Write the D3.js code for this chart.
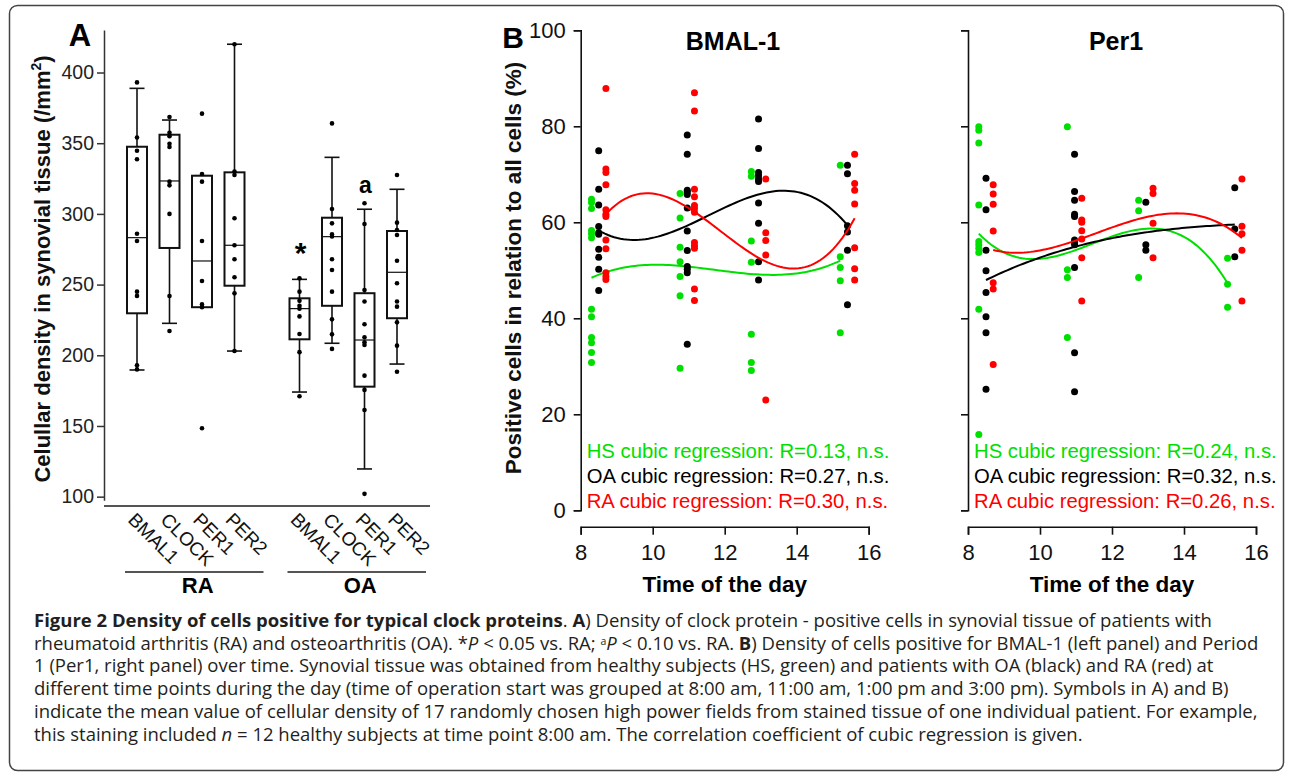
<!DOCTYPE html>
<html>
<head>
<meta charset="utf-8">
<script src="https://cdn.jsdelivr.net/npm/d3@7"></script>
<style>
  body { margin: 0; background: #fff; }
  svg { display: block; font-family: "Liberation Sans", Arial, sans-serif; }
</style>
</head>
<body>
<svg id="fig" width="1290" height="773"></svg>
<script>
// ---------- Panel A data ----------
const genes = ["BMAL1", "CLOCK", "PER1", "PER2"];
const diseases = ["RA", "OA"];
// [lower whisker, q1, median, q3, upper whisker]
const raStats = [
    [189.6, 229.7, 283.2, 347.5, 388.8],
    [222.6, 275.9, 323.3, 356.0, 366.4],
    [234.0, 234.0, 266.7, 327.0, 327.0],
    [203.0, 249.2, 277.8, 329.4, 420.0]
];
const oaStats = [
    [174.0, 211.3, 233.0, 240.3, 253.7],
    [208.5, 235.0, 283.9, 297.3, 340.0],
    [119.6, 177.8, 210.8, 243.9, 303.3],
    [193.8, 226.2, 258.7, 287.9, 317.4]
];
const raPoints = [
    [393, 354, 344.7, 338.6, 286, 280.8, 245, 242, 193, 190],
    [368.5, 357.4, 355, 349.6, 347.3, 322.8, 320.2, 300, 241.9, 217.2],
    [370.9, 328.2, 322.8, 280.8, 252.5, 236, 234, 148.4],
    [420, 330, 327.5, 296.9, 277.8, 267.9, 255.2, 243.8, 203]
];
const oaPoints = [
    [254.4, 245, 238.5, 235, 233, 227.5, 215, 202.2, 171],
    [364, 303.5, 293.3, 285.5, 284, 267.9, 260.3, 245, 225.4, 214.8, 204.5],
    [307.5, 292.9, 246.2, 238, 221.9, 212.7, 209.2, 207.3, 185.6, 175.5, 161.3, 102],
    [327.5, 293.8, 288.6, 285.1, 266.9, 250.9, 238, 234.4, 223.3, 206.8, 188.4]
];
const oaMarks = ["*", "", "a", ""];
const yTicksA = [100, 150, 200, 250, 300, 350, 400];

// ---------- Panel B data ----------
const times = [8.5, 10.96, 12.94, 15.41];
const groupsB = ["HS", "OA", "RA"];
const bmalHS = [
    [64.8, 64.1, 62.9, 58.3, 57.6, 56.8, 41.9, 40.3, 36.0, 34.9, 32.9, 30.8],
    [66.0, 60.9, 54.8, 51.8, 48.7, 44.7, 29.6],
    [70.6, 69.6, 56.1, 51.7, 36.7, 30.8, 29.1],
    [71.9, 52.8, 50.6, 47.8, 37.0]
];
const bmalOA = [
    [74.9, 66.9, 63.6, 59.1, 57.8, 57.5, 54.4, 52.7, 50.2, 45.8],
    [78.2, 74.2, 66.7, 66.3, 65.8, 63.0, 58.2, 54.1, 50.8, 50.2, 49.5, 34.6],
    [81.5, 75.4, 70.4, 69.7, 69.0, 68.5, 64.0, 59.8, 51.8, 48.0],
    [71.9, 70.1, 59.3, 58.0, 54.2, 42.8]
];
const bmalRA = [
    [87.9, 71.1, 70.4, 67.8, 62.6, 61.7, 61.2, 56.3, 54.5, 49.5, 48.7, 48.1],
    [87.0, 83.2, 66.9, 65.3, 63.5, 62.9, 62.1, 55.8, 55.1, 54.6, 46.1, 43.7],
    [69.0, 57.8, 56.2, 53.2, 23.0],
    [74.2, 68.1, 66.7, 63.8, 54.7, 50.3, 48.0]
];
const perHS = [
    [79.9, 79.2, 76.5, 63.6, 56.0, 55.3, 54.6, 53.7, 41.9, 15.8],
    [79.9, 50.1, 48.5, 36.0],
    [64.6, 62.4, 48.5],
    [52.5, 47.1, 42.3]
];
const perOA = [
    [69.2, 62.6, 54.2, 49.9, 45.4, 40.3, 37.0, 25.2],
    [74.2, 66.4, 64.6, 61.7, 61.2, 56.3, 55.8, 55.3, 50.6, 32.8, 24.7],
    [64.2, 55.3, 54.2],
    [67.2, 58.6, 52.8]
];
const perRA = [
    [67.8, 65.9, 63.75, 58.2, 47.4, 46.1, 30.4],
    [65.0, 60.5, 60.0, 58.25, 56.5, 52.6, 43.6],
    [67.1, 66.0, 59.8, 52.6],
    [69.0, 59.2, 57.6, 54.2, 43.6]
];
const bmalR = ["0.13", "0.27", "0.30"];
const perR = ["0.24", "0.32", "0.26"];
const xTicksB = [8, 10, 12, 14, 16];
const yTicksB = [0, 20, 40, 60, 80, 100];

const colors = { HS: "#00e000", OA: "#000000", RA: "#ff0000" };
const jitter = { HS: -0.2, OA: 0, RA: 0.2 };

const svg = d3.select("#fig");

// frame
svg.append("rect")
    .attr("x", 9.5).attr("y", 5.5)
    .attr("width", 1274).attr("height", 765)
    .attr("rx", 8)
    .attr("fill", "none")
    .attr("stroke", "#444")
    .attr("stroke-width", 1.5);

// ================= Panel A =================
const slots = ["RA-BMAL1", "RA-CLOCK", "RA-PER1", "RA-PER2", "gap",
               "OA-BMAL1", "OA-CLOCK", "OA-PER1", "OA-PER2"];
const xA = d3.scalePoint().domain(slots).range([137, 397]);
const yA = d3.scaleLinear().domain([97.5, 430]).range([500.2, 30.1]);

const gA = svg.append("g");

gA.append("g")
    .attr("transform", "translate(104,0)")
    .call(d3.axisLeft(yA).tickValues(yTicksA).tickSize(7).tickSizeOuter(0).tickPadding(3))
    .call(g => g.selectAll("path, line").attr("stroke", "#333").attr("stroke-width", 1.5))
    .call(g => g.selectAll("text").attr("font-size", 19.5).attr("fill", "#222")
        .attr("font-family", "Liberation Sans, Arial, sans-serif"));

// baseline of panel A
gA.append("line")
    .attr("x1", 104).attr("x2", 430)
    .attr("y1", 506).attr("y2", 506)
    .attr("stroke", "#555").attr("stroke-width", 2);

gA.append("text")
    .attr("transform", "translate(50,269) rotate(-90)")
    .attr("text-anchor", "middle")
    .attr("font-size", 22).attr("font-weight", "bold").attr("fill", "#111")
    .text("Celullar density in synovial tissue (/mm")
    .append("tspan").attr("font-size", 14).attr("dy", -9).text("2")
    .select(function () { return this.parentNode; })
    .append("tspan").attr("dy", 9).text(")");

gA.append("text")
    .attr("x", 80).attr("y", 46)
    .attr("text-anchor", "middle")
    .attr("font-size", 31).attr("font-weight", "bold")
    .text("A");

const boxes = [];
diseases.forEach((dz, di) => {
    const stats = di === 0 ? raStats : oaStats;
    const pts = di === 0 ? raPoints : oaPoints;
    genes.forEach((gn, gi) => {
        boxes.push({ key: dz + "-" + gn, gene: gn, s: stats[gi], pts: pts[gi],
                     mark: di === 1 ? oaMarks[gi] : "" });
    });
});

const boxW = 20, capW = 15;
const bx = gA.selectAll("g.box").data(boxes).enter().append("g").attr("class", "box");

bx.append("line")
    .attr("x1", d => xA(d.key)).attr("x2", d => xA(d.key))
    .attr("y1", d => yA(d.s[0])).attr("y2", d => yA(d.s[4]))
    .attr("stroke", "#111").attr("stroke-width", 1.6);
bx.selectAll("line.cap").data(d => [d.s[0], d.s[4]].map(v => ({ x: xA(d.key), v })))
    .enter().append("line").attr("class", "cap")
    .attr("x1", d => d.x - capW / 2).attr("x2", d => d.x + capW / 2)
    .attr("y1", d => yA(d.v)).attr("y2", d => yA(d.v))
    .attr("stroke", "#111").attr("stroke-width", 1.6);
bx.append("rect")
    .attr("x", d => xA(d.key) - boxW / 2)
    .attr("y", d => yA(d.s[3]))
    .attr("width", boxW)
    .attr("height", d => yA(d.s[1]) - yA(d.s[3]))
    .attr("fill", "#fff").attr("stroke", "#111").attr("stroke-width", 2);
bx.append("line")
    .attr("x1", d => xA(d.key) - boxW / 2).attr("x2", d => xA(d.key) + boxW / 2)
    .attr("y1", d => yA(d.s[2])).attr("y2", d => yA(d.s[2]))
    .attr("stroke", "#111").attr("stroke-width", 1.2);
bx.selectAll("circle").data(d => d.pts.map(v => ({ x: xA(d.key), v })))
    .enter().append("circle")
    .attr("cx", d => d.x).attr("cy", d => yA(d.v))
    .attr("r", 2.3).attr("fill", "#000");

// significance marks
bx.filter(d => d.mark === "*").append("text")
    .attr("x", d => xA(d.key) + 1).attr("y", d => yA(d.s[4]) - 16)
    .attr("text-anchor", "middle").attr("font-size", 30).attr("font-weight", "bold")
    .text(d => d.mark);
bx.filter(d => d.mark === "a").append("text")
    .attr("x", d => xA(d.key) + 1).attr("y", d => yA(d.s[4]) - 16)
    .attr("text-anchor", "middle").attr("font-size", 23).attr("font-weight", "bold")
    .text(d => d.mark);

// rotated gene labels
gA.selectAll("text.gene").data(boxes).enter().append("text")
    .attr("class", "gene")
    .attr("transform", d => `translate(${xA(d.key) - 10},521) rotate(45)`)
    .attr("font-size", 19).attr("fill", "#111")
    .text(d => d.gene);

// group underlines and labels
diseases.forEach((dz, di) => {
    const first = xA(dz + "-" + genes[0]), last = xA(dz + "-" + genes[3]);
    gA.append("line")
        .attr("x1", first - 12).attr("x2", last + 29)
        .attr("y1", 572).attr("y2", 572)
        .attr("stroke", "#555").attr("stroke-width", 1.8);
    gA.append("text")
        .attr("x", (first + last) / 2 + 12).attr("y", 593)
        .attr("text-anchor", "middle")
        .attr("font-size", 22).attr("font-weight", "bold")
        .text(dz);
});

// ================= Panel B =================
const yB = d3.scaleLinear().domain([0, 100]).range([510.3, 30.3]);

function cubicFit(xs, ys) {
    const A = [[0, 0, 0, 0], [0, 0, 0, 0], [0, 0, 0, 0], [0, 0, 0, 0]];
    const b = [0, 0, 0, 0];
    xs.forEach((x, i) => {
        const u = x - 12, p = [1, u, u * u, u * u * u];
        for (let j = 0; j < 4; j++) {
            b[j] += p[j] * ys[i];
            for (let k = 0; k < 4; k++) A[j][k] += p[j] * p[k];
        }
    });
    // gaussian elimination
    for (let c = 0; c < 4; c++) {
        let piv = c;
        for (let r = c + 1; r < 4; r++) if (Math.abs(A[r][c]) > Math.abs(A[piv][c])) piv = r;
        [A[c], A[piv]] = [A[piv], A[c]]; [b[c], b[piv]] = [b[piv], b[c]];
        for (let r = c + 1; r < 4; r++) {
            const f = A[r][c] / A[c][c];
            for (let k = c; k < 4; k++) A[r][k] -= f * A[c][k];
            b[r] -= f * b[c];
        }
    }
    const co = [0, 0, 0, 0];
    for (let r = 3; r >= 0; r--) {
        let s = b[r];
        for (let k = r + 1; k < 4; k++) s -= A[r][k] * co[k];
        co[r] = s / A[r][r];
    }
    return x => { const u = x - 12; return co[0] + co[1] * u + co[2] * u * u + co[3] * u * u * u; };
}

function drawPanel(opts) {
    const x = d3.scaleLinear().domain([8, 16]).range([opts.x0, opts.x0 + 288]);
    const g = svg.append("g");

    g.append("g")
        .attr("transform", `translate(${opts.x0},0)`)
        .call(d3.axisLeft(yB).tickValues(yTicksB).tickSize(7).tickPadding(8)
            .tickFormat(opts.yLabels ? d3.format("d") : () => ""))
        .call(a => a.selectAll("path, line").attr("stroke", "#111").attr("stroke-width", 1.6))
        .call(a => a.selectAll("text").attr("font-size", 22).attr("fill", "#111")
            .attr("font-family", "Liberation Sans, Arial, sans-serif"));

    g.append("g")
        .attr("transform", "translate(0,526.7)")
        .call(d3.axisBottom(x).tickValues(xTicksB).tickSize(8).tickPadding(10))
        .call(a => a.selectAll("path, line").attr("stroke", "#111").attr("stroke-width", 1.6))
        .call(a => a.selectAll("text").attr("font-size", 22).attr("fill", "#111")
            .attr("font-family", "Liberation Sans, Arial, sans-serif"));

    g.append("text")
        .attr("x", opts.x0 + 144).attr("y", 591.5)
        .attr("text-anchor", "middle")
        .attr("font-size", 22.5).attr("font-weight", "bold")
        .text("Time of the day");

    g.append("text")
        .attr("x", opts.titleX).attr("y", 50)
        .attr("text-anchor", "middle")
        .attr("font-size", 25).attr("font-weight", "bold")
        .text(opts.title);

    const line = d3.line().x(d => x(d[0])).y(d => yB(d[1]));

    groupsB.forEach((grp, gi) => {
        const series = opts.data[gi];
        const xs = [], ys = [];
        series.forEach((vals, ti) => {
            const t = times[ti] + jitter[grp];
            vals.forEach(v => { xs.push(t); ys.push(v); });
        });
        g.append("g").selectAll("circle")
            .data(xs.map((t, i) => [t, ys[i]]))
            .enter().append("circle")
            .attr("cx", d => x(d[0])).attr("cy", d => yB(d[1]))
            .attr("r", 3.5).attr("fill", colors[grp]);

        const f = cubicFit(xs, ys);
        const lo = d3.min(xs), hi = d3.max(xs);
        const curve = d3.range(0, 81).map(i => { const t = lo + (hi - lo) * i / 80; return [t, f(t)]; });
        g.append("path")
            .attr("d", line(curve))
            .attr("fill", "none")
            .attr("stroke", colors[grp])
            .attr("stroke-width", 2);

        g.append("text")
            .attr("x", opts.x0 + 6).attr("y", 458.3 + gi * 25)
            .attr("font-size", 20.3).attr("fill", colors[grp])
            .text(`${grp} cubic regression: R=${opts.r[gi]}, n.s.`);
    });
}

drawPanel({ x0: 580.7, title: "BMAL-1", titleX: 733, yLabels: true,
            data: [bmalHS, bmalOA, bmalRA], r: bmalR });
drawPanel({ x0: 968, title: "Per1", titleX: 1116, yLabels: false,
            data: [perHS, perOA, perRA], r: perR });

svg.append("text")
    .attr("transform", "translate(521,268) rotate(-90)")
    .attr("text-anchor", "middle")
    .attr("font-size", 22.5).attr("font-weight", "bold").attr("fill", "#111")
    .text("Positive cells in relation to all cells (%)");

svg.append("text")
    .attr("x", 513).attr("y", 48)
    .attr("text-anchor", "middle")
    .attr("font-size", 30).attr("font-weight", "bold")
    .text("B");

// ================= Caption =================
const captionLines = [
    [["Figure 2 Density of cells positive for typical clock proteins", "b"], [". ", ""], ["A", "b"],
     [") Density of clock protein - positive cells in synovial tissue of patients with", ""]],
    [["rheumatoid arthritis (RA) and osteoarthritis (OA). *", ""], ["P", "i"], [" < 0.05 vs. RA; ", ""],
     ["a", "sup"], ["P", "i"], [" < 0.10 vs. RA. ", ""], ["B", "b"],
     [") Density of cells positive for BMAL-1 (left panel) and Period", ""]],
    [["1 (Per1, right panel) over time. Synovial tissue was obtained from healthy subjects (HS, green) and patients with OA (black) and RA (red) at", ""]],
    [["different time points during the day (time of operation start was grouped at 8:00 am, 11:00 am, 1:00 pm and 3:00 pm). Symbols in A) and B)", ""]],
    [["indicate the mean value of cellular density of 17 randomly chosen high power fields from stained tissue of one individual patient. For example,", ""]],
    [["this staining included ", ""], ["n", "i"], [" = 12 healthy subjects at time point 8:00 am. The correlation coefficient of cubic regression is given.", ""]]
];

const cap = svg.append("g")
    .attr("font-family", "Open Sans, Noto Sans, sans-serif")
    .attr("font-size", 18.5)
    .attr("fill", "#231f20");

captionLines.forEach((segs, li) => {
    const t = cap.append("text").attr("x", 34).attr("y", 627 + li * 22.7);
    let raised = false;
    segs.forEach(([txt, st]) => {
        const sp = t.append("tspan").text(txt);
        if (raised) { sp.attr("dy", 5); raised = false; }
        if (st === "b") sp.attr("font-weight", "bold");
        if (st === "i") sp.attr("font-style", "italic");
        if (st === "sup") { sp.attr("font-size", 10.5).attr("dy", -5); raised = true; }
    });
});
</script>
</body>
</html>
